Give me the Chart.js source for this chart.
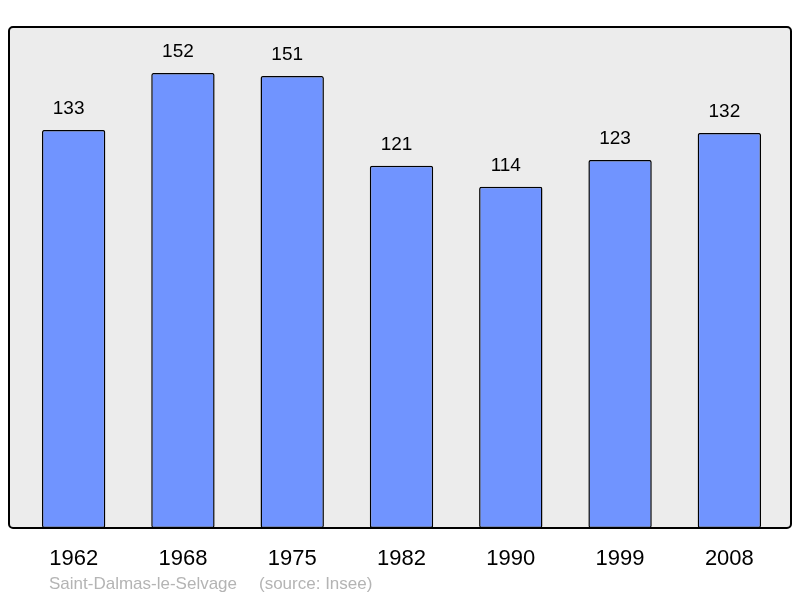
<!DOCTYPE html>
<html><head><meta charset="utf-8">
<script src="https://cdn.jsdelivr.net/npm/chart.js@4/dist/chart.umd.min.js"></script>
<style>html,body{margin:0;padding:0;background:#fff;}canvas{display:block;}</style>
</head><body>
<canvas id="c" width="800" height="598"></canvas>
<script>
const years = ["1962","1968","1975","1982","1990","1999","2008"];
const population = [133,152,151,121,114,123,132];
const footerName = "Saint-Dalmas-le-Selvage";
const footerSource = "(source: Insee)";

const bgPlugin = {
  id:'bg',
  beforeDraw(chart){
    const ctx = chart.ctx;
    ctx.save();
    ctx.beginPath();
    ctx.roundRect(9,27,782,501,4);
    ctx.fillStyle='#ececec';
    ctx.fill();
    ctx.restore();
  },
  afterDatasetsDraw(chart){
    const ctx = chart.ctx;
    ctx.save();
    ctx.beginPath();
    ctx.roundRect(9,27,782,501,4);
    ctx.lineWidth=2;
    ctx.strokeStyle='#000';
    ctx.stroke();
    const meta = chart.getDatasetMeta(0);
    ctx.font='19px "Liberation Sans", Arial, sans-serif';
    ctx.fillStyle='#000';
    ctx.textAlign='center';
    ctx.textBaseline='middle';
    meta.data.forEach((bar,i)=>{
      ctx.fillText(String(population[i]), bar.x-5, bar.y-21);
    });
    ctx.font='17px "Liberation Sans", Arial, sans-serif';
    ctx.fillStyle='#b4b4b4';
    ctx.textAlign='left';
    ctx.fillText(footerName, 49, 584);
    ctx.fillText(footerSource, 259, 584);
    ctx.restore();
  }
};

new Chart(document.getElementById('c'), {
  type:'bar',
  data:{labels:years, datasets:[{data:population, backgroundColor:'#7094ff', borderColor:'#000', borderWidth:1.5, borderRadius:2, borderSkipped:false, categoryPercentage:1, barPercentage:0.58}]},
  options:{
    responsive:false, animation:false,
    layout:{padding:{left:19,right:16,top:27,bottom:0}},
    plugins:{legend:{display:false}, title:{display:false}, tooltip:{enabled:false}},
    scales:{
      y:{display:false, min:0, max:167.4},
      x:{
        grid:{display:false, drawTicks:false}, border:{display:false},
        ticks:{color:'#000', font:{size:22, family:'"Liberation Sans", Arial, sans-serif'}, padding:18, maxRotation:0},
        afterFit(scale){ scale.height = 70; }
      }
    }
  },
  plugins:[bgPlugin]
});
</script>
</body></html>
